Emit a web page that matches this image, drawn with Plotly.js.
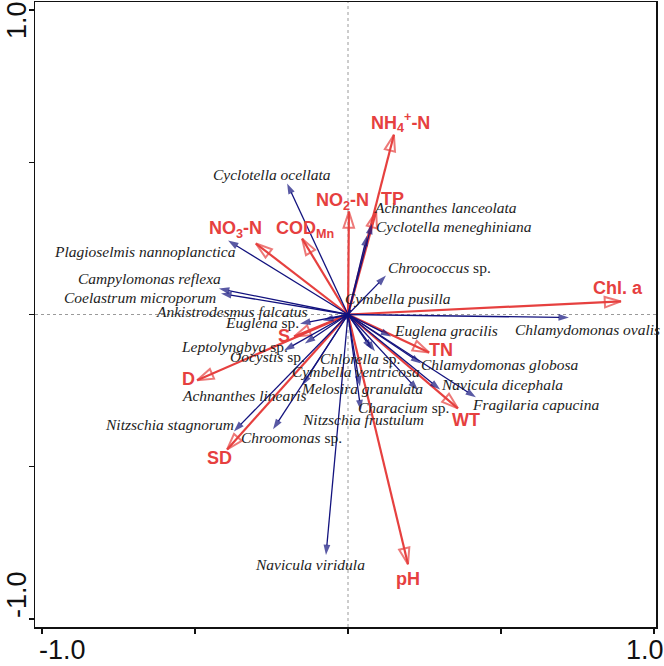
<!DOCTYPE html>
<html>
<head>
<meta charset="utf-8">
<script src="https://cdn.plot.ly/plotly-3.0.1.min.js"></script>
<style>
  html, body { margin: 0; padding: 0; background: #ffffff; }
  #chart { width: 664px; height: 666px; }
</style>
</head>
<body>
<div id="chart"></div>
<script>
// RDA biplot: phytoplankton species (blue) and environmental variables (red)

const speciesNames = [
  'Cyclotella ocellata', 'Achnanthes lanceolata', 'Cyclotella meneghiniana',
  'Plagioselmis nannoplanctica', 'Chroococcus sp.', 'Campylomonas reflexa',
  'Cymbella pusilla', 'Coelastrum microporum', 'Ankistrodesmus falcatus',
  'Chlamydomonas ovalis', 'Euglena sp.', 'Euglena gracilis',
  'Leptolyngbya sp.', 'Oocystis sp.', 'Chlorella sp.',
  'Chlamydomonas globosa', 'Cymbella ventricosa', 'Navicula dicephala',
  'Achnanthes linearis', 'Melosira granulata', 'Characium sp.',
  'Fragilaria capucina', 'Nitzschia stagnorum', 'Nitzschia frustulum',
  'Chroomonas sp.', 'Navicula viridula'
];
const speciesAxis1 = [
  -0.199, 0.078, 0.062,
  -0.392, 0.124, -0.422,
  0.010, -0.415, -0.082,
  0.722, -0.157, 0.141,
  -0.209, -0.141, 0.088,
  0.239, 0.078, 0.301,
  -0.150, 0.039, 0.229,
  0.418, -0.373, 0.042,
  -0.245, -0.072
];
const speciesAxis2 = [
  0.430, 0.298, 0.259,
  0.243, 0.128, 0.085,
  0.015, 0.069, -0.020,
  -0.010, -0.030, -0.072,
  -0.118, -0.095, -0.121,
  -0.161, -0.115, -0.246,
  -0.233, -0.236, -0.249,
  -0.272, -0.384, -0.315,
  -0.377, -0.790
];

const envNames = ['NH4+-N', 'TP', 'NO2-N', 'CODMn', 'NO3-N', 'Chl. a',
                  'TN', 'WT', 'pH', 'SD', 'D', 'S'];
const envAxis1 = [0.150, 0.092, 0.003, -0.150, -0.301, 0.892,
                  0.265, 0.359, 0.196, -0.395, -0.493, -0.176];
const envAxis2 = [0.590, 0.338, 0.338, 0.249, 0.233, 0.043,
                  -0.125, -0.308, -0.820, -0.443, -0.216, -0.072];

// rich-text forms of the variable names
const envLabelText = {
  'NH4+-N': 'NH<sub>4</sub><sup>+</sup>-N',
  'NO2-N': 'NO<sub>2</sub>-N',
  'NO3-N': 'NO<sub>3</sub>-N',
  'CODMn': 'COD<sub>Mn</sub>'
};

// label placement: pixel offset of the label centre from the arrow tip [right, down]
const speciesLabelShift = [
  [-15, -9], [74, -16], [87, -9],
  [-83, 11], [54, -8], [-69, -10],
  [47, -11], [-81, 4], [-91, -9],
  [19, 12], [-38, -1], [55, -6],
  [-50, -4], [-37, 13], [-15, 7],
  [78, 1], [-16, 22], [62, -5],
  [-58, 10], [2, 2], [-15, 17],
  [60, 7], [-64, -7], [2, 9],
  [18, 8], [-16, 9]
];
const envLabelShift = [
  [7, -12], [16, -13], [-6, -10], [3, -9], [-20, -14], [-3, -13],
  [12, -3], [8, 12], [0, 15], [-8, 9], [-9, -1], [-10, 0]
];

const RED = '#e6403f';
const BLUE = '#12127e';

function speciesText(name) {
  if (name.endsWith(' sp.')) {
    return '<i>' + name.slice(0, -4) + '</i> sp.';
  }
  return '<i>' + name + '</i>';
}

const traces = [];

// environmental arrows: open heads
envNames.forEach((name, i) => {
  traces.push({
    type: 'scatter',
    x: [0, envAxis1[i]],
    y: [0, envAxis2[i]],
    mode: 'lines+markers',
    line: { color: RED, width: 2.2 },
    marker: {
      symbol: 'arrow-open',
      angleref: 'previous',
      size: [0, 17],
      color: RED,
      line: { color: RED, width: 2 }
    },
    hoverinfo: 'skip',
    showlegend: false,
    cliponaxis: false
  });
});

// species arrows: filled heads
speciesNames.forEach((name, i) => {
  traces.push({
    type: 'scatter',
    x: [0, speciesAxis1[i]],
    y: [0, speciesAxis2[i]],
    mode: 'lines+markers',
    line: { color: BLUE, width: 1.3 },
    marker: {
      symbol: 'arrow',
      angleref: 'previous',
      size: [0, 11],
      color: BLUE,
      line: { width: 0 }
    },
    hoverinfo: 'skip',
    showlegend: false,
    cliponaxis: false
  });
});

const annotations = [];

speciesNames.forEach((name, i) => {
  annotations.push({
    x: speciesAxis1[i], y: speciesAxis2[i], xref: 'x', yref: 'y',
    text: speciesText(name),
    showarrow: false,
    xanchor: 'center', yanchor: 'middle',
    xshift: speciesLabelShift[i][0], yshift: -speciesLabelShift[i][1],
    font: { family: 'Liberation Serif, Times New Roman, serif', size: 15.5, color: '#1c1c1c' }
  });
});

envNames.forEach((name, i) => {
  annotations.push({
    x: envAxis1[i], y: envAxis2[i], xref: 'x', yref: 'y',
    text: envLabelText[name] || name,
    showarrow: false,
    xanchor: 'center', yanchor: 'middle',
    xshift: envLabelShift[i][0], yshift: -envLabelShift[i][1],
    font: { family: 'Liberation Sans, Arial, sans-serif', size: 18, color: RED, weight: 'bold' }
  });
});

// axis end labels, kept inside the frame
const axisFont = { family: 'Liberation Sans, Arial, sans-serif', size: 27, color: '#111' };
annotations.push(
  { x: -1, y: 0, xref: 'x', yref: 'paper', text: '-1.0', showarrow: false,
    xanchor: 'center', yanchor: 'middle', xshift: 20, yshift: -23, font: axisFont },
  { x: 1, y: 0, xref: 'x', yref: 'paper', text: '1.0', showarrow: false,
    xanchor: 'center', yanchor: 'middle', xshift: -9, yshift: -23, font: axisFont },
  { x: 0, y: 1, xref: 'paper', yref: 'y', text: '1.0', showarrow: false, textangle: -90,
    xanchor: 'center', yanchor: 'middle', xshift: -18, yshift: -10, font: axisFont },
  { x: 0, y: -1, xref: 'paper', yref: 'y', text: '-1.0', showarrow: false, textangle: -90,
    xanchor: 'center', yanchor: 'middle', xshift: -18, yshift: 24, font: axisFont }
);

const axisCommon = {
  showgrid: false,
  zeroline: false,
  showline: true,
  linecolor: '#111',
  linewidth: 1.5,
  mirror: true,
  ticks: 'outside',
  ticklen: 5,
  tickwidth: 1.2,
  tickcolor: '#111',
  tickvals: [-1, -0.5, 0, 0.5, 1],
  showticklabels: false,
  fixedrange: true
};

const layout = {
  width: 664,
  height: 666,
  margin: { l: 35, r: 8, t: 2, b: 39 },
  paper_bgcolor: '#ffffff',
  plot_bgcolor: '#ffffff',
  showlegend: false,
  xaxis: Object.assign({}, axisCommon, { range: [-1.0229, 1.0065] }),
  yaxis: Object.assign({}, axisCommon, { range: [-1.026, 1.026] }),
  shapes: [
    { type: 'line', xref: 'x', yref: 'paper', x0: 0, x1: 0, y0: 0, y1: 1,
      line: { color: '#9a9a9a', width: 1, dash: 'dot' }, layer: 'below' },
    { type: 'line', xref: 'paper', yref: 'y', x0: 0, x1: 1, y0: 0, y1: 0,
      line: { color: '#9a9a9a', width: 1, dash: 'dot' }, layer: 'below' }
  ],
  annotations: annotations
};

Plotly.newPlot('chart', traces, layout, { displayModeBar: false, staticPlot: true });
</script>
</body>
</html>
